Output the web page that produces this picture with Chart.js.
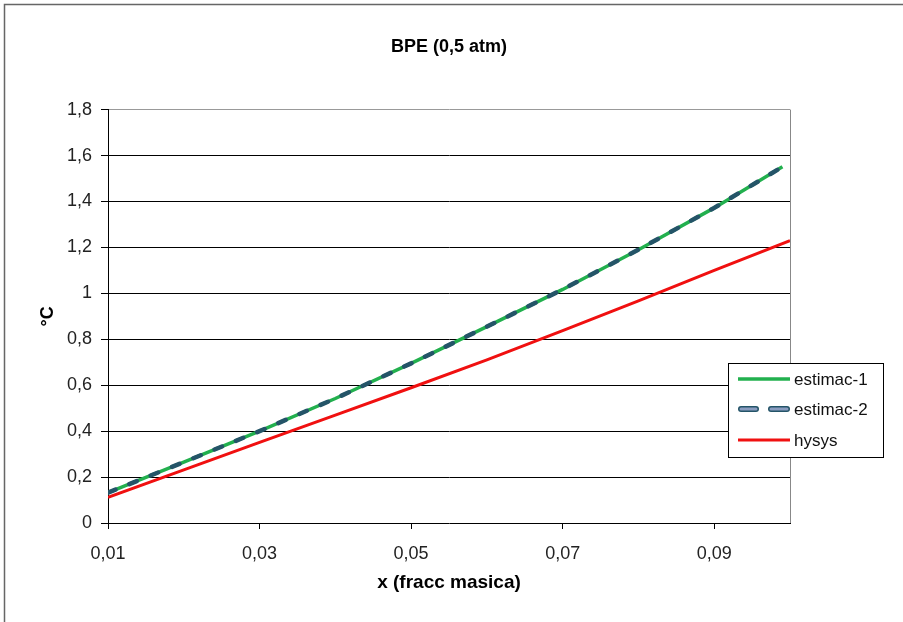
<!DOCTYPE html>
<html>
<head>
<meta charset="utf-8">
<script src="https://cdn.jsdelivr.net/npm/chart.js@4/dist/chart.umd.min.js"></script>
<style>
  html, body { margin: 0; padding: 0; background: #fff; }
  #wrap { width: 903px; height: 622px; position: relative; }
</style>
</head>
<body>
<div id="wrap"><canvas id="c" width="903" height="622"></canvas></div>
<script>
// ---- data ----
const xEstimac = [0.01, 0.02, 0.03, 0.04, 0.05, 0.06, 0.07, 0.08, 0.09, 0.099];
const estimac1 = [0.132, 0.265, 0.40, 0.542, 0.695, 0.855, 1.017, 1.19, 1.372, 1.551];
const estimac2 = [0.132, 0.265, 0.40, 0.542, 0.695, 0.855, 1.017, 1.19, 1.372, 1.551];
const xHysys = [0.01, 0.02, 0.03, 0.04, 0.05, 0.06, 0.07, 0.08, 0.09, 0.10];
const hysys = [0.112, 0.231, 0.351, 0.47, 0.589, 0.71, 0.838, 0.967, 1.10, 1.229];
const xTickValues = [0.01, 0.03, 0.05, 0.07, 0.09];
const seriesNames = ['estimac-1', 'estimac-2', 'hysys'];
const chartTitle = 'BPE (0,5 atm)';
const xTitle = 'x (fracc masica)';
const yTitle = '°C';

const toPts = (xs, ys) => xs.map((x, i) => ({ x: x, y: ys[i] }));
const fmt = v => String(Math.round(v * 100) / 100).replace('.', ',');

const FONT = "'Liberation Sans', Arial, sans-serif";

const frame = {
  id: 'frame',
  beforeDraw(chart) {
    const ctx = chart.ctx;
    ctx.save();
    ctx.fillStyle = '#fff';
    ctx.fillRect(0, 0, chart.width, chart.height);
    ctx.strokeStyle = '#666';
    ctx.lineWidth = 1.5;
    ctx.beginPath();
    ctx.moveTo(4.5, chart.height);
    ctx.lineTo(4.5, 4.5);
    ctx.lineTo(chart.width, 4.5);
    ctx.stroke();
    ctx.restore();
  },
  beforeDatasetsDraw(chart) {
    const a = chart.chartArea, ctx = chart.ctx;
    ctx.save();
    ctx.strokeStyle = '#888';
    ctx.lineWidth = 1;
    ctx.beginPath();
    ctx.moveTo(Math.round(a.right) + 0.5, a.top);
    ctx.lineTo(Math.round(a.right) + 0.5, a.bottom);
    ctx.stroke();
    ctx.restore();
  },
  afterDraw(chart) {
    // legend box
    const ctx = chart.ctx;
    const bx = 728.5, by = 363.5, bw = 155, bh = 94;
    ctx.save();
    ctx.fillStyle = '#fff';
    ctx.fillRect(bx, by, bw, bh);
    ctx.strokeStyle = '#000';
    ctx.lineWidth = 1;
    ctx.strokeRect(bx, by, bw, bh);
    const rows = [379, 409, 440];
    ctx.font = '17px ' + FONT;
    ctx.textBaseline = 'middle';
    chart.data.datasets.forEach((ds, i) => {
      const y = rows[i];
      ctx.save();
      ctx.lineCap = 'round';
      if (ds.borderDash && ds.borderDash.length) {
        const segs = [[741, 756], [771, 787]];
        ctx.strokeStyle = ds.borderColor;
        ctx.lineWidth = 6;
        segs.forEach(s => { ctx.beginPath(); ctx.moveTo(s[0], y); ctx.lineTo(s[1], y); ctx.stroke(); });
        ctx.strokeStyle = '#8a9cc0';
        ctx.lineWidth = 3;
        segs.forEach(s => { ctx.beginPath(); ctx.moveTo(s[0], y); ctx.lineTo(s[1], y); ctx.stroke(); });
      } else {
        ctx.lineCap = 'butt';
        ctx.strokeStyle = ds.borderColor;
        ctx.lineWidth = ds.borderWidth;
        ctx.beginPath();
        ctx.moveTo(738, y); ctx.lineTo(790, y);
        ctx.stroke();
      }
      ctx.restore();
      ctx.fillStyle = '#111';
      ctx.fillText(ds.label, 794, y + 1);
    });
    ctx.restore();
  }
};

new Chart(document.getElementById('c'), {
  type: 'line',
  data: {
    datasets: [
      {
        label: seriesNames[0],
        data: toPts(xEstimac, estimac1),
        borderColor: '#22b04e',
        borderWidth: 3.5,
        pointRadius: 0,
        tension: 0,
        order: 3
      },
      {
        label: seriesNames[1],
        data: toPts(xEstimac, estimac2),
        borderColor: '#245468',
        borderWidth: 4.5,
        borderDash: [8, 15],
        borderCapStyle: 'round',
        pointRadius: 0,
        tension: 0,
        order: 1
      },
      {
        label: seriesNames[2],
        data: toPts(xHysys, hysys),
        borderColor: '#f01010',
        borderWidth: 3,
        pointRadius: 0,
        tension: 0,
        order: 2
      }
    ]
  },
  options: {
    responsive: false,
    animation: false,
    devicePixelRatio: 1,
    layout: { padding: { left: 33, right: 113, top: 20, bottom: 24 } },
    plugins: {
      legend: { display: false },
      tooltip: { enabled: false },
      title: {
        display: true,
        text: chartTitle,
        fullSize: false,
        color: '#000',
        font: { family: FONT, size: 18, weight: 'bold' },
        padding: { top: 16, bottom: 52 }
      }
    },
    scales: {
      x: {
        type: 'linear',
        min: 0.01,
        max: 0.1,
        afterBuildTicks: s => { s.ticks = xTickValues.map(v => ({ value: v })); },
        afterFit: s => { s.height = 75; },
        ticks: {
          callback: v => fmt(v),
          color: '#222',
          font: { family: FONT, size: 18 },
          padding: 14,
          maxRotation: 0,
          autoSkip: false
        },
        grid: { drawOnChartArea: false, drawTicks: true, tickLength: 6, tickColor: '#000' },
        border: { display: true, color: '#000', width: 1 },
        title: {
          display: true,
          text: xTitle,
          color: '#000',
          font: { family: FONT, size: 19, weight: 'bold' }
        }
      },
      y: {
        min: 0,
        max: 1.8,
        afterFit: s => { s.width = 75; },
        ticks: {
          stepSize: 0.2,
          callback: v => fmt(v),
          color: '#222',
          font: { family: FONT, size: 18 },
          padding: 9
        },
        grid: {
          color: c => (Math.abs(c.tick.value - 1.8) < 1e-6 ? '#999' : (c.tick.value === 0 ? 'rgba(0,0,0,0)' : '#000')),
          tickColor: '#000',
          tickLength: 7,
          lineWidth: 1
        },
        border: { display: true, color: '#000', width: 1 },
        title: {
          display: true,
          text: yTitle,
          color: '#000',
          font: { family: FONT, size: 18, weight: 'bold' }
        }
      }
    }
  },
  plugins: [frame]
});
</script>
</body>
</html>
